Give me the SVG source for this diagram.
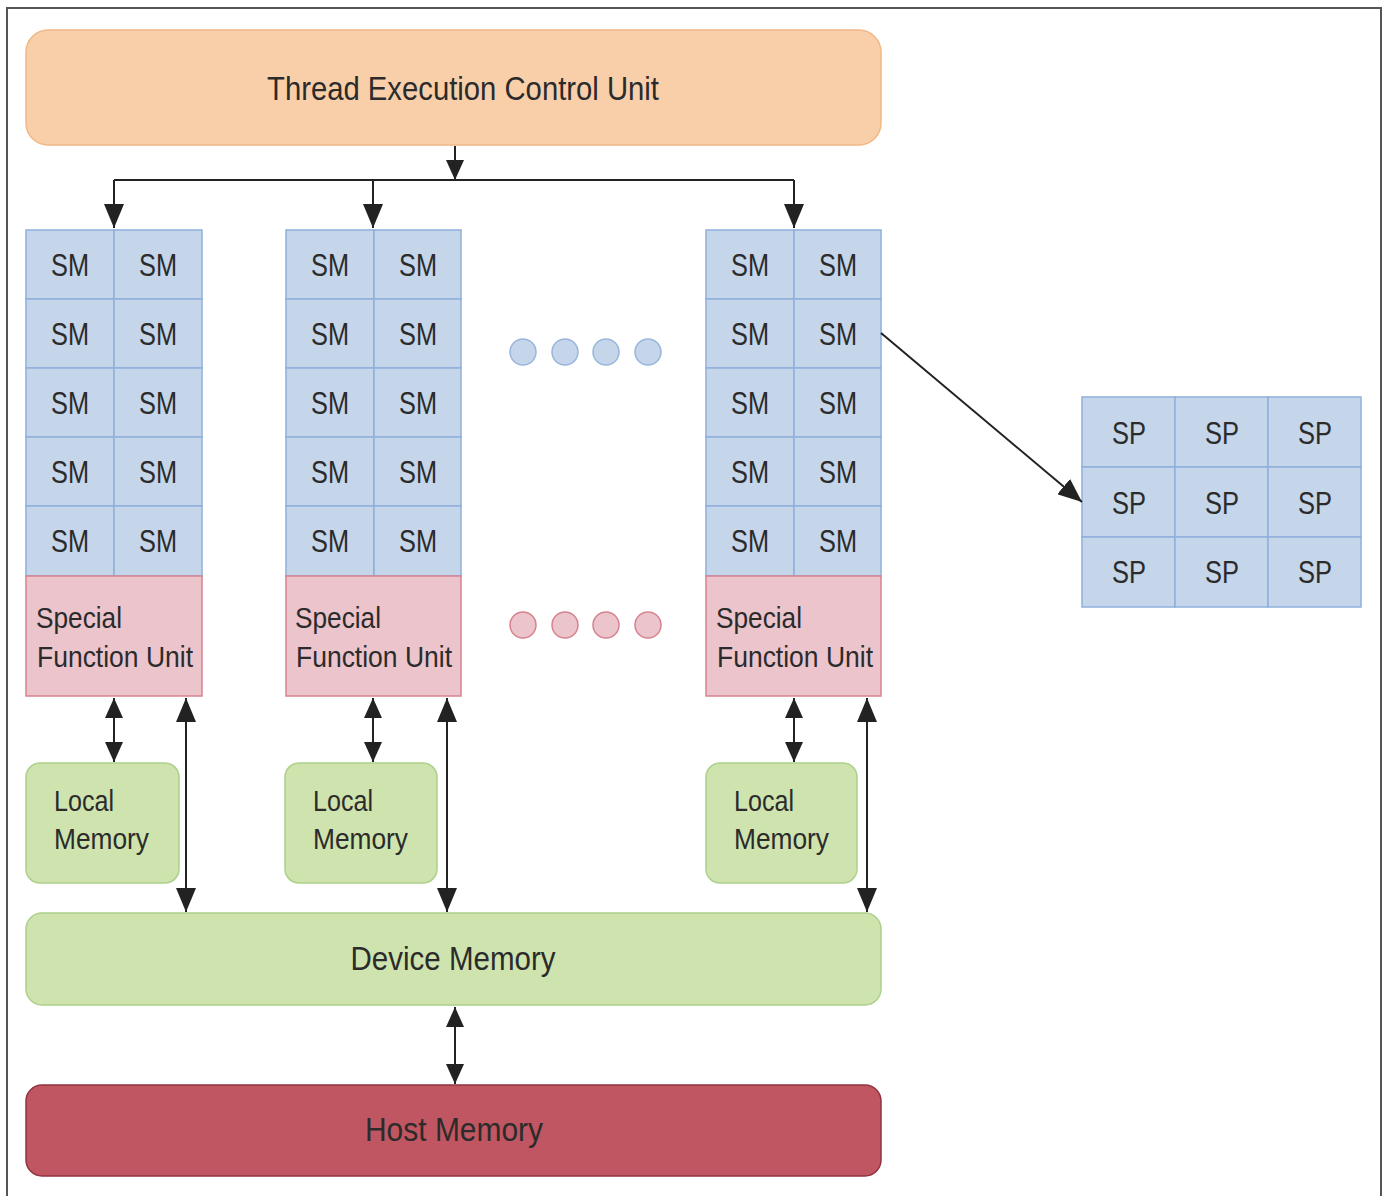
<svg xmlns="http://www.w3.org/2000/svg" width="1387" height="1196" viewBox="0 0 1387 1196">
<style>
text{font-family:"Liberation Sans",Arial,sans-serif;fill:#2b2b2b}
.sm{fill:#c5d5ea;stroke:#8fb0dc;stroke-width:1.5}
.sfu{fill:#ebc4cc;stroke:#d6838f;stroke-width:1.5}
.grn{fill:#cfe3ae;stroke:#add08b;stroke-width:1.5}
.c{font-size:32px;text-anchor:middle}
.l{font-size:30px}
.con{stroke:#222;stroke-width:2;fill:none}
</style>
<defs>
<marker id="ah" viewBox="0 0 24 20" refX="24" refY="10" markerWidth="24" markerHeight="20" markerUnits="userSpaceOnUse" orient="auto-start-reverse">
<path d="M0,0 L24,10 L0,20 Z" fill="#222"/>
</marker>
<marker id="as" viewBox="0 0 20 18" refX="20" refY="9" markerWidth="20" markerHeight="18" markerUnits="userSpaceOnUse" orient="auto-start-reverse">
<path d="M0,0 L20,9 L0,18 Z" fill="#222"/>
</marker>
</defs>
<rect x="0" y="0" width="1387" height="1196" fill="#ffffff"/>
<path d="M7,1196 V8 H1381 V1196" fill="none" stroke="#555" stroke-width="2"/>

<g id="tecu">
<rect x="26" y="30" width="855" height="115" rx="22" fill="#f9cfaa" stroke="#f0b886" stroke-width="1.5"/>
<text x="463" y="100" font-size="34" text-anchor="middle" textLength="392" lengthAdjust="spacingAndGlyphs">Thread Execution Control Unit</text>
</g>

<g id="sm-col-1">
<rect class="sm" x="26" y="230" width="88" height="69"/><rect class="sm" x="114" y="230" width="88" height="69"/>
<rect class="sm" x="26" y="299" width="88" height="69"/><rect class="sm" x="114" y="299" width="88" height="69"/>
<rect class="sm" x="26" y="368" width="88" height="69"/><rect class="sm" x="114" y="368" width="88" height="69"/>
<rect class="sm" x="26" y="437" width="88" height="69"/><rect class="sm" x="114" y="437" width="88" height="69"/>
<rect class="sm" x="26" y="506" width="88" height="70"/><rect class="sm" x="114" y="506" width="88" height="70"/>
<text class="c" x="70" y="276" textLength="38" lengthAdjust="spacingAndGlyphs">SM</text><text class="c" x="158" y="276" textLength="38" lengthAdjust="spacingAndGlyphs">SM</text>
<text class="c" x="70" y="345" textLength="38" lengthAdjust="spacingAndGlyphs">SM</text><text class="c" x="158" y="345" textLength="38" lengthAdjust="spacingAndGlyphs">SM</text>
<text class="c" x="70" y="414" textLength="38" lengthAdjust="spacingAndGlyphs">SM</text><text class="c" x="158" y="414" textLength="38" lengthAdjust="spacingAndGlyphs">SM</text>
<text class="c" x="70" y="483" textLength="38" lengthAdjust="spacingAndGlyphs">SM</text><text class="c" x="158" y="483" textLength="38" lengthAdjust="spacingAndGlyphs">SM</text>
<text class="c" x="70" y="552" textLength="38" lengthAdjust="spacingAndGlyphs">SM</text><text class="c" x="158" y="552" textLength="38" lengthAdjust="spacingAndGlyphs">SM</text>
</g>
<g id="sfu-1">
<rect class="sfu" x="26" y="576" width="176" height="120"/>
<text class="l" x="36" y="628" textLength="86" lengthAdjust="spacingAndGlyphs">Special</text>
<text class="l" x="37" y="667" textLength="156" lengthAdjust="spacingAndGlyphs">Function Unit</text>
</g>

<g id="sm-col-2">
<rect class="sm" x="286" y="230" width="88" height="69"/><rect class="sm" x="374" y="230" width="87" height="69"/>
<rect class="sm" x="286" y="299" width="88" height="69"/><rect class="sm" x="374" y="299" width="87" height="69"/>
<rect class="sm" x="286" y="368" width="88" height="69"/><rect class="sm" x="374" y="368" width="87" height="69"/>
<rect class="sm" x="286" y="437" width="88" height="69"/><rect class="sm" x="374" y="437" width="87" height="69"/>
<rect class="sm" x="286" y="506" width="88" height="70"/><rect class="sm" x="374" y="506" width="87" height="70"/>
<text class="c" x="330" y="276" textLength="38" lengthAdjust="spacingAndGlyphs">SM</text><text class="c" x="418" y="276" textLength="38" lengthAdjust="spacingAndGlyphs">SM</text>
<text class="c" x="330" y="345" textLength="38" lengthAdjust="spacingAndGlyphs">SM</text><text class="c" x="418" y="345" textLength="38" lengthAdjust="spacingAndGlyphs">SM</text>
<text class="c" x="330" y="414" textLength="38" lengthAdjust="spacingAndGlyphs">SM</text><text class="c" x="418" y="414" textLength="38" lengthAdjust="spacingAndGlyphs">SM</text>
<text class="c" x="330" y="483" textLength="38" lengthAdjust="spacingAndGlyphs">SM</text><text class="c" x="418" y="483" textLength="38" lengthAdjust="spacingAndGlyphs">SM</text>
<text class="c" x="330" y="552" textLength="38" lengthAdjust="spacingAndGlyphs">SM</text><text class="c" x="418" y="552" textLength="38" lengthAdjust="spacingAndGlyphs">SM</text>
</g>
<g id="sfu-2">
<rect class="sfu" x="286" y="576" width="175" height="120"/>
<text class="l" x="295" y="628" textLength="86" lengthAdjust="spacingAndGlyphs">Special</text>
<text class="l" x="296" y="667" textLength="156" lengthAdjust="spacingAndGlyphs">Function Unit</text>
</g>

<g id="sm-col-3">
<rect class="sm" x="706" y="230" width="88" height="69"/><rect class="sm" x="794" y="230" width="87" height="69"/>
<rect class="sm" x="706" y="299" width="88" height="69"/><rect class="sm" x="794" y="299" width="87" height="69"/>
<rect class="sm" x="706" y="368" width="88" height="69"/><rect class="sm" x="794" y="368" width="87" height="69"/>
<rect class="sm" x="706" y="437" width="88" height="69"/><rect class="sm" x="794" y="437" width="87" height="69"/>
<rect class="sm" x="706" y="506" width="88" height="70"/><rect class="sm" x="794" y="506" width="87" height="70"/>
<text class="c" x="750" y="276" textLength="38" lengthAdjust="spacingAndGlyphs">SM</text><text class="c" x="838" y="276" textLength="38" lengthAdjust="spacingAndGlyphs">SM</text>
<text class="c" x="750" y="345" textLength="38" lengthAdjust="spacingAndGlyphs">SM</text><text class="c" x="838" y="345" textLength="38" lengthAdjust="spacingAndGlyphs">SM</text>
<text class="c" x="750" y="414" textLength="38" lengthAdjust="spacingAndGlyphs">SM</text><text class="c" x="838" y="414" textLength="38" lengthAdjust="spacingAndGlyphs">SM</text>
<text class="c" x="750" y="483" textLength="38" lengthAdjust="spacingAndGlyphs">SM</text><text class="c" x="838" y="483" textLength="38" lengthAdjust="spacingAndGlyphs">SM</text>
<text class="c" x="750" y="552" textLength="38" lengthAdjust="spacingAndGlyphs">SM</text><text class="c" x="838" y="552" textLength="38" lengthAdjust="spacingAndGlyphs">SM</text>
</g>
<g id="sfu-3">
<rect class="sfu" x="706" y="576" width="175" height="120"/>
<text class="l" x="716" y="628" textLength="86" lengthAdjust="spacingAndGlyphs">Special</text>
<text class="l" x="717" y="667" textLength="156" lengthAdjust="spacingAndGlyphs">Function Unit</text>
</g>

<g id="dots-sm">
<circle cx="523" cy="352" r="13" fill="#c5d5ea" stroke="#9ab6dc" stroke-width="1.5"/>
<circle cx="565" cy="352" r="13" fill="#c5d5ea" stroke="#9ab6dc" stroke-width="1.5"/>
<circle cx="606" cy="352" r="13" fill="#c5d5ea" stroke="#9ab6dc" stroke-width="1.5"/>
<circle cx="648" cy="352" r="13" fill="#c5d5ea" stroke="#9ab6dc" stroke-width="1.5"/>
</g>
<g id="dots-sfu">
<circle cx="523" cy="625" r="13" fill="#ebc4cc" stroke="#d6838f" stroke-width="1.5"/>
<circle cx="565" cy="625" r="13" fill="#ebc4cc" stroke="#d6838f" stroke-width="1.5"/>
<circle cx="606" cy="625" r="13" fill="#ebc4cc" stroke="#d6838f" stroke-width="1.5"/>
<circle cx="648" cy="625" r="13" fill="#ebc4cc" stroke="#d6838f" stroke-width="1.5"/>
</g>

<g id="local-1">
<rect class="grn" x="26" y="763" width="153" height="120" rx="14"/>
<text class="l" x="54" y="811" textLength="60" lengthAdjust="spacingAndGlyphs">Local</text>
<text class="l" x="54" y="849" textLength="95" lengthAdjust="spacingAndGlyphs">Memory</text>
</g>
<g id="local-2">
<rect class="grn" x="285" y="763" width="152" height="120" rx="14"/>
<text class="l" x="313" y="811" textLength="60" lengthAdjust="spacingAndGlyphs">Local</text>
<text class="l" x="313" y="849" textLength="95" lengthAdjust="spacingAndGlyphs">Memory</text>
</g>
<g id="local-3">
<rect class="grn" x="706" y="763" width="151" height="120" rx="14"/>
<text class="l" x="734" y="811" textLength="60" lengthAdjust="spacingAndGlyphs">Local</text>
<text class="l" x="734" y="849" textLength="95" lengthAdjust="spacingAndGlyphs">Memory</text>
</g>

<g id="device-memory">
<rect class="grn" x="26" y="913" width="855" height="92" rx="16"/>
<text x="453" y="970" font-size="34" text-anchor="middle" textLength="205" lengthAdjust="spacingAndGlyphs">Device Memory</text>
</g>
<g id="host-memory">
<rect x="26" y="1085" width="855" height="91" rx="16" fill="#c05662" stroke="#8f3440" stroke-width="1.5"/>
<text x="454" y="1141" font-size="34" text-anchor="middle" textLength="178" lengthAdjust="spacingAndGlyphs">Host Memory</text>
</g>

<g id="sp-grid">
<rect class="sm" x="1082" y="397" width="93" height="70"/><rect class="sm" x="1175" y="397" width="93" height="70"/><rect class="sm" x="1268" y="397" width="93" height="70"/>
<rect class="sm" x="1082" y="467" width="93" height="70"/><rect class="sm" x="1175" y="467" width="93" height="70"/><rect class="sm" x="1268" y="467" width="93" height="70"/>
<rect class="sm" x="1082" y="537" width="93" height="70"/><rect class="sm" x="1175" y="537" width="93" height="70"/><rect class="sm" x="1268" y="537" width="93" height="70"/>
<text class="c" x="1129" y="444" textLength="34" lengthAdjust="spacingAndGlyphs">SP</text><text class="c" x="1222" y="444" textLength="34" lengthAdjust="spacingAndGlyphs">SP</text><text class="c" x="1315" y="444" textLength="34" lengthAdjust="spacingAndGlyphs">SP</text>
<text class="c" x="1129" y="514" textLength="34" lengthAdjust="spacingAndGlyphs">SP</text><text class="c" x="1222" y="514" textLength="34" lengthAdjust="spacingAndGlyphs">SP</text><text class="c" x="1315" y="514" textLength="34" lengthAdjust="spacingAndGlyphs">SP</text>
<text class="c" x="1129" y="583" textLength="34" lengthAdjust="spacingAndGlyphs">SP</text><text class="c" x="1222" y="583" textLength="34" lengthAdjust="spacingAndGlyphs">SP</text><text class="c" x="1315" y="583" textLength="34" lengthAdjust="spacingAndGlyphs">SP</text>
</g>

<g id="connectors">
<line class="con" x1="455" y1="146" x2="455" y2="180" marker-end="url(#as)"/>
<path class="con" d="M114,180 H794"/>
<line class="con" x1="114" y1="180" x2="114" y2="228" marker-end="url(#ah)"/>
<line class="con" x1="373" y1="180" x2="373" y2="228" marker-end="url(#ah)"/>
<line class="con" x1="794" y1="180" x2="794" y2="228" marker-end="url(#ah)"/>
<line class="con" x1="881" y1="333" x2="1082" y2="502" marker-end="url(#ah)"/>
<line class="con" x1="114" y1="698" x2="114" y2="762" marker-start="url(#as)" marker-end="url(#as)"/>
<line class="con" x1="186" y1="698" x2="186" y2="912" marker-start="url(#ah)" marker-end="url(#ah)"/>
<line class="con" x1="373" y1="698" x2="373" y2="762" marker-start="url(#as)" marker-end="url(#as)"/>
<line class="con" x1="447" y1="698" x2="447" y2="912" marker-start="url(#ah)" marker-end="url(#ah)"/>
<line class="con" x1="794" y1="698" x2="794" y2="762" marker-start="url(#as)" marker-end="url(#as)"/>
<line class="con" x1="867" y1="698" x2="867" y2="912" marker-start="url(#ah)" marker-end="url(#ah)"/>
<line class="con" x1="455" y1="1007" x2="455" y2="1084" marker-start="url(#as)" marker-end="url(#as)"/>
</g>
</svg>
